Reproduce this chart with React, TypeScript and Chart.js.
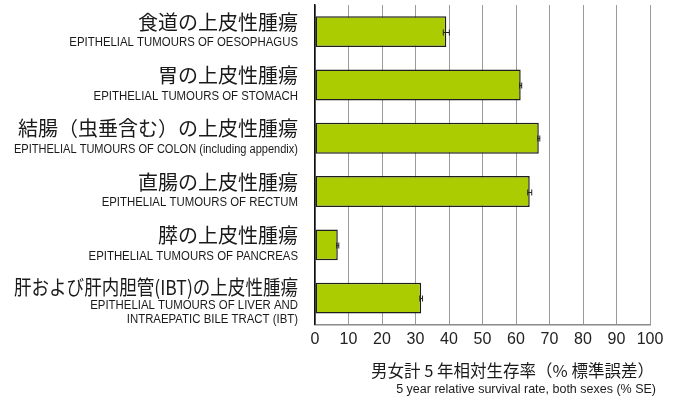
import React, { useEffect, useRef } from "react";
import { Chart, registerables } from "chart.js";

Chart.register(...registerables);

const categoriesJa = [
  "食道の上皮性腫瘍",
  "胃の上皮性腫瘍",
  "結腸（虫垂含む）の上皮性腫瘍",
  "直腸の上皮性腫瘍",
  "膵の上皮性腫瘍",
  "肝および肝内胆管(IBT)の上皮性腫瘍",
];
const categoriesEn = [
  ["EPITHELIAL TUMOURS OF OESOPHAGUS"],
  ["EPITHELIAL TUMOURS OF STOMACH"],
  ["EPITHELIAL TUMOURS OF COLON (including appendix)"],
  ["EPITHELIAL TUMOURS OF RECTUM"],
  ["EPITHELIAL TUMOURS OF PANCREAS"],
  ["EPITHELIAL TUMOURS OF LIVER AND", "INTRAEPATIC BILE TRACT (IBT)"],
];
const survival = [39.2, 61.4, 66.8, 64.1, 6.8, 31.7];
const standardError = [0.9, 0.3, 0.3, 0.6, 0.3, 0.4];
const xMin = 0;
const xMax = 100;
const xStep = 10;
const axisTitleJa = "男女計 5 年相対生存率（% 標準誤差）";
const axisTitleEn = "5 year relative survival rate, both sexes (% SE)";

const JA_FONT = '"Noto Sans CJK JP", "Noto Sans", sans-serif';
const LATIN_FONT = '"Liberation Sans", Arial, sans-serif';

function drawCondensed(
  ctx: CanvasRenderingContext2D,
  text: string,
  xRight: number,
  y: number,
  sx: number,
  maxW: number
) {
  ctx.save();
  ctx.translate(xRight, y);
  ctx.scale(sx, 1);
  ctx.fillText(text, 0, 0, maxW / sx);
  ctx.restore();
}

const overlayPlugin = {
  id: "overlay",
  afterDatasetsDraw(chart: any) {
    const ctx = chart.ctx;
    const xs = chart.scales.x;
    const ys = chart.scales.y;
    ctx.save();
    ctx.strokeStyle = "#222";
    ctx.lineWidth = 1;
    survival.forEach((v, i) => {
      const y = Math.round(ys.getPixelForValue(i)) + 0.5;
      const x1 = xs.getPixelForValue(v - standardError[i]);
      const x2 = xs.getPixelForValue(v + standardError[i]);
      ctx.beginPath();
      ctx.moveTo(x1, y);
      ctx.lineTo(x2, y);
      ctx.moveTo(x1, y - 3);
      ctx.lineTo(x1, y + 3);
      ctx.moveTo(x2, y - 3);
      ctx.lineTo(x2, y + 3);
      ctx.stroke();
    });
    ctx.restore();
  },
  afterDraw(chart: any) {
    const ctx = chart.ctx;
    const ys = chart.scales.y;
    const area = chart.chartArea;
    ctx.save();
    ctx.fillStyle = "#1a1a1a";
    ctx.textAlign = "right";
    ctx.textBaseline = "middle";
    const rightX = area.left - 17;
    const maxW = rightX - 14;
    categoriesJa.forEach((ja, i) => {
      const c = ys.getPixelForValue(i);
      const en = categoriesEn[i];
      const jaY = en.length > 1 ? c - 10.5 : c - 9.5;
      ctx.font = `20px ${JA_FONT}`;
      ctx.fillText(ja, rightX, jaY, maxW);
      ctx.font = `12px ${LATIN_FONT}`;
      en.forEach((line, k) => {
        const ey = en.length > 1 ? c + 8 + k * 13.5 : c + 11.5;
        drawCondensed(ctx, line, rightX, ey, 0.95, maxW);
      });
    });
    const tx = area.right;
    ctx.font = `16.5px ${JA_FONT}`;
    ctx.fillText(axisTitleJa, tx + 4, area.bottom + 46);
    ctx.font = `12.5px ${LATIN_FONT}`;
    ctx.fillText(axisTitleEn, tx + 6, area.bottom + 65);
    ctx.restore();
  },
};

export default function App() {
  const ref = useRef<HTMLCanvasElement | null>(null);
  useEffect(() => {
    document.body.style.margin = "0";
    const canvas = ref.current;
    if (!canvas) return;
    const chart = new Chart(canvas, {
      type: "bar",
      data: {
        labels: categoriesJa,
        datasets: [
          {
            data: survival,
            backgroundColor: "#aacc00",
            borderColor: "#1e1e1e",
            borderWidth: 1.5,
            borderSkipped: false,
            categoryPercentage: 0.58,
            barPercentage: 1,
          },
        ],
      },
      options: {
        indexAxis: "y",
        animation: false,
        responsive: false,
        maintainAspectRatio: false,
        layout: { padding: { left: 315, right: 30, top: 5, bottom: 51 } },
        plugins: {
          legend: { display: false },
          tooltip: { enabled: false },
        },
        scales: {
          x: {
            min: xMin,
            max: xMax,
            ticks: {
              stepSize: xStep,
              color: "#222",
              padding: 5,
              maxRotation: 0,
              minRotation: 0,
              autoSkip: false,
              font: { size: 16, family: LATIN_FONT },
            },
            grid: { color: "#9a9a9a", lineWidth: 1, drawTicks: false },
            border: { color: "#8a8a8a", width: 1.5 },
          },
          y: {
            ticks: { display: false },
            grid: { display: false, drawTicks: false },
            border: { color: "#111", width: 1.5 },
          },
        },
      },
      plugins: [overlayPlugin],
    });
    return () => chart.destroy();
  }, []);
  return (
    <div style={{ width: 680, height: 405, background: "#fff" }}>
      <canvas ref={ref} width={680} height={405} style={{ display: "block" }} />
    </div>
  );
}
